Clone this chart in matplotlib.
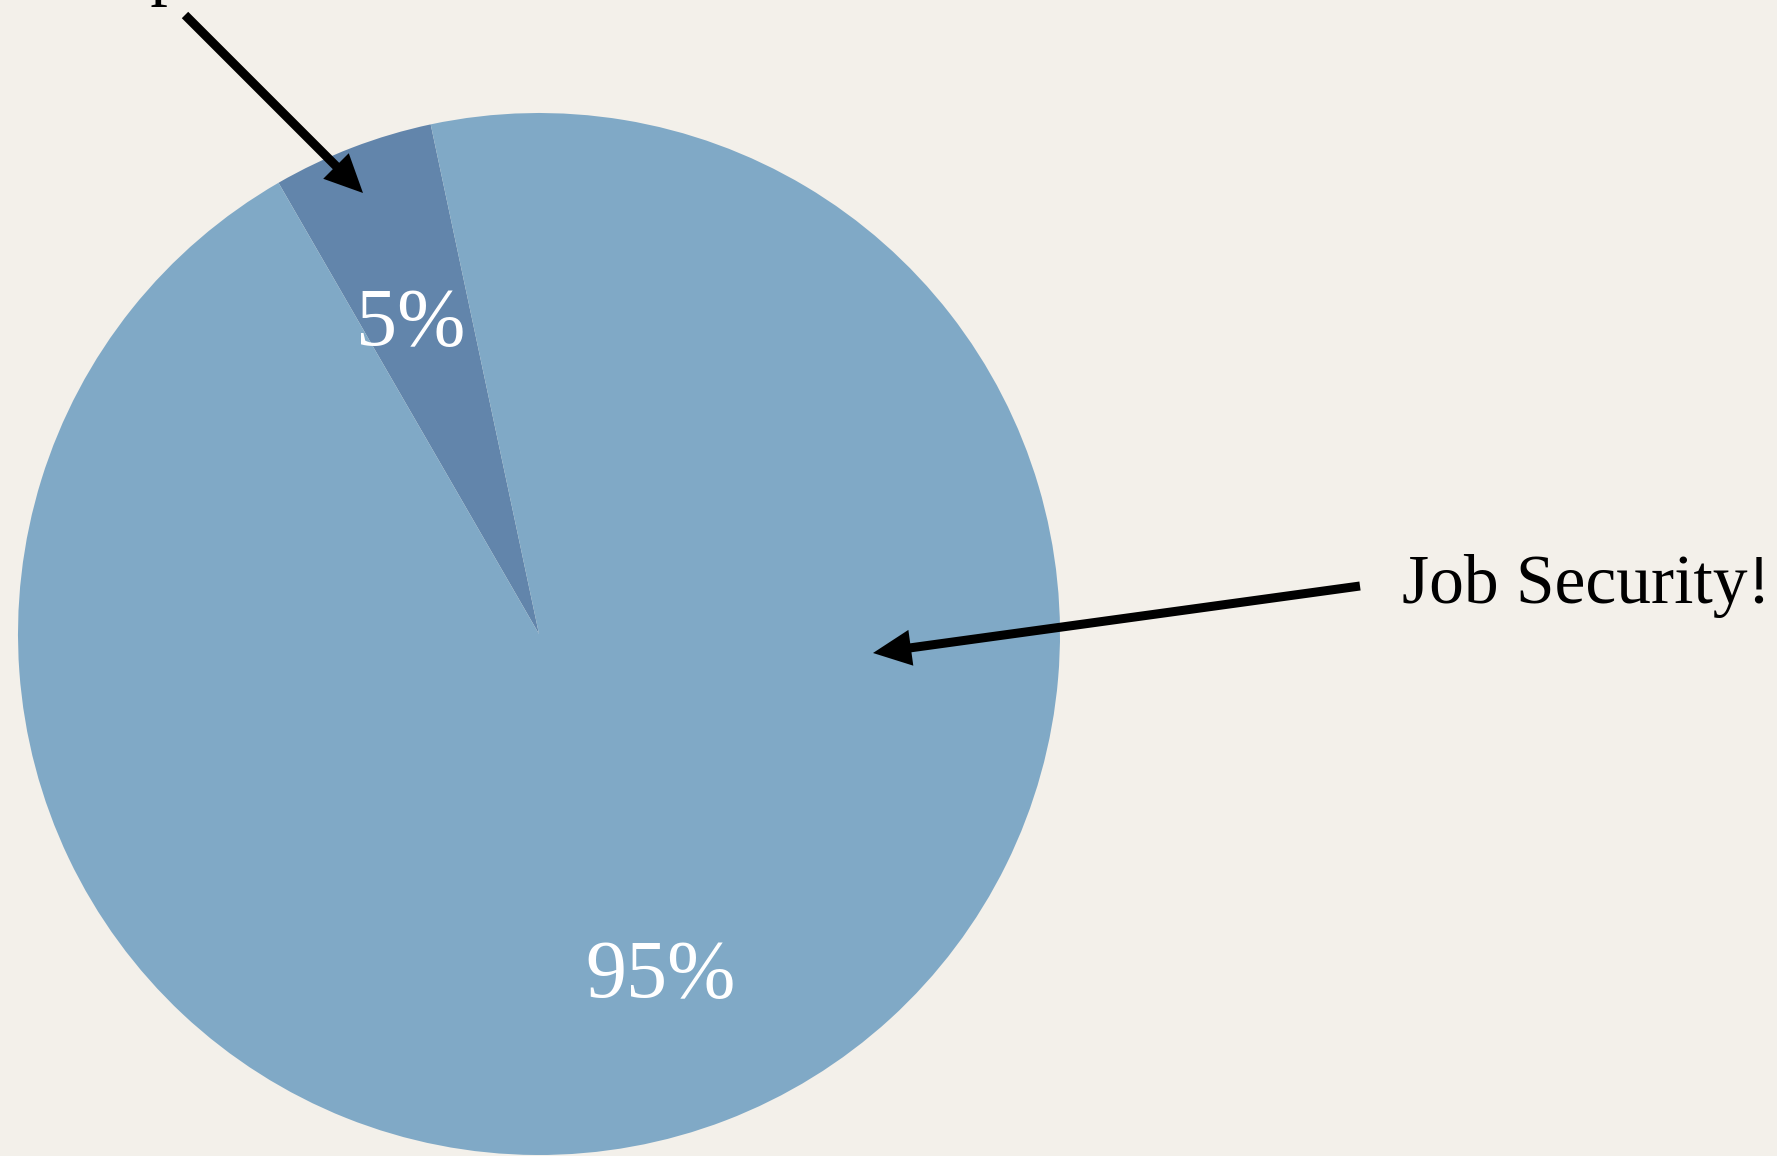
import numpy as np
import matplotlib.pyplot as plt

# Slice data
labels = ["Improvement", "Job Security!"]
shares = [5, 95]
pct_text = ["5%", "95%"]

W, H = 1777, 1156
BG = "#f3f0ea"
COLORS = ["#6285ab", "#80a9c6"]

fig = plt.figure(figsize=(W / 100, H / 100), dpi=100, facecolor=BG)
ax = fig.add_axes([0, 0, 1, 1])

serif = ["Liberation Serif", "DejaVu Serif"]

cx, cy, r = 539, H - 634, 521
start = 102
wedges, _ = ax.pie(
    shares,
    colors=COLORS,
    startangle=start,
    counterclock=True,
    center=(cx, cy),
    radius=r,
    frame=True,
    wedgeprops=dict(linewidth=0),
)
ax.set_xlim(0, W)
ax.set_ylim(0, H)
ax.set_aspect("equal")
ax.axis("off")

# percentage labels placed along each wedge's middle angle
label_dist = [0.635, 0.705]
for w, txt, d in zip(wedges, pct_text, label_dist):
    mid = np.deg2rad((w.theta1 + w.theta2) / 2)
    ax.text(cx + d * r * np.cos(mid) - 10, cy + d * r * np.sin(mid), txt,
            color="white", fontsize=59, family=serif,
            ha="center", va="center")

arrow = dict(arrowstyle="simple,head_length=0.55,head_width=0.52,tail_width=0.13",
             mutation_scale=50, fc="black", ec="none", lw=0,
             shrinkA=0, shrinkB=0)

# top label sits mostly above the frame
ax.text(73, H + 8, labels[0], fontsize=50, family=serif,
        ha="left", va="baseline", color="black")
ax.annotate("", xy=(363, H - 193), xytext=(185, H - 15), arrowprops=arrow)

ax.text(1402, H - 603, labels[1], fontsize=50, family=serif,
        ha="left", va="baseline", color="black")
ax.annotate("", xy=(873, H - 653), xytext=(1360, H - 586), arrowprops=arrow)

fig.savefig("out.png", dpi=100, facecolor=BG)
